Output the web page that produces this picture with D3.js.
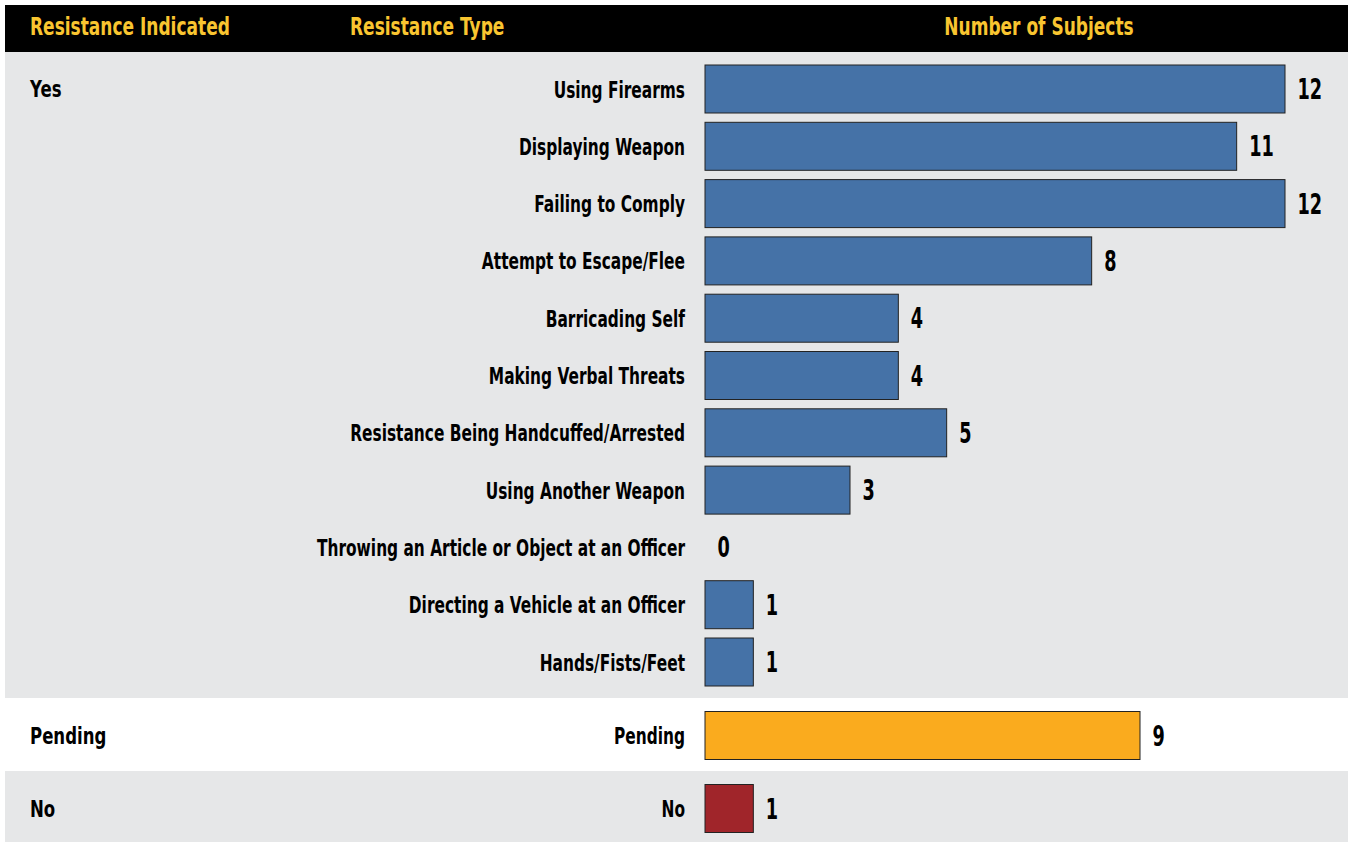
<!DOCTYPE html>
<html><head><meta charset="utf-8">
<script src="https://cdn.jsdelivr.net/npm/d3@7"></script>
<style>
html,body{margin:0;padding:0;background:#fff;}
text{font-family:"DejaVu Sans",sans-serif;font-weight:bold;}
</style></head>
<body><svg id="c" width="1350" height="842"></svg>
<script>
const headers = ["Resistance Indicated","Resistance Type","Number of Subjects"];
const groups = ["Yes","Pending","No"];
const categories = ["Using Firearms","Displaying Weapon","Failing to Comply","Attempt to Escape/Flee","Barricading Self","Making Verbal Threats","Resistance Being Handcuffed/Arrested","Using Another Weapon","Throwing an Article or Object at an Officer","Directing a Vehicle at an Officer","Hands/Fists/Feet","Pending","No"];
const categoryGroup = ["Yes","Yes","Yes","Yes","Yes","Yes","Yes","Yes","Yes","Yes","Yes","Pending","No"];
const values = [12,11,12,8,4,4,5,3,0,1,1,9,1];

const groupColor = {Yes:"#4572A7",Pending:"#FAAB1E",No:"#A0252A"};
const groupBg = {Yes:"#E6E7E8",Pending:"#FFFFFF",No:"#E6E7E8"};

const svg = d3.select("#c");

const rowH = 57.3;
const x = d3.scaleLinear().domain([0,12]).range([705,1285]);

const yCenters = [];
categories.forEach((c,i)=>{
  if (categoryGroup[i]==="Yes") yCenters.push(89 + i*rowH);
});
yCenters.push(735.5); // Pending
yCenters.push(808.5); // No

const bands = [
  {g:"Yes",y0:52,y1:698},
  {g:"Pending",y0:698,y1:771},
  {g:"No",y0:771,y1:842}
];
svg.selectAll("rect.band").data(bands).enter().append("rect")
  .attr("x",5).attr("width",1343).attr("y",d=>d.y0).attr("height",d=>d.y1-d.y0)
  .attr("fill",d=>groupBg[d.g]);

// condensed text helper
function ctext(sel, xf, yf, k, size, anchorf, fill, tf){
  const g = sel.append("g").attr("transform",(d,i)=>`translate(${xf(d,i)},${yf(d,i)}) scale(${k},1)`);
  g.append("text").attr("text-anchor",anchorf).attr("font-size",size).attr("fill",fill).text(tf);
  return g;
}

// header
svg.append("rect").attr("x",5).attr("y",5).attr("width",1343).attr("height",47).attr("fill","#000");
const hx = [30,350,1039], ha=["start","start","middle"];
ctext(svg.selectAll("g.h").data(headers).enter(), (d,i)=>hx[i], ()=>35, 0.695, 24.5, d=>ha[headers.indexOf(d)], "#F9C530", d=>d);

// group labels
const groupLabelY = {Yes:97,Pending:744,No:817};
ctext(svg.selectAll("g.g").data(groups).enter(), ()=>30, d=>groupLabelY[d], 0.72, 23, "start", "#000", d=>d);

const barH = 48;
const rows = categories.map((c,i)=>({c,v:values[i],g:categoryGroup[i],y:yCenters[i]}));

ctext(svg.selectAll("g.cat").data(rows).enter(), ()=>685, d=>d.y+8.5, 0.685, 22.5, "end", "#000", d=>d.c);

svg.selectAll("rect.bar").data(rows.filter(d=>d.v>0)).enter().append("rect")
  .attr("x",x(0)).attr("y",d=>d.y-barH/2).attr("width",d=>x(d.v)-x(0)).attr("height",barH)
  .attr("fill",d=>groupColor[d.g]).attr("stroke","#222").attr("stroke-width",1);

ctext(svg.selectAll("g.val").data(rows).enter(), d=>x(d.v)+12.5, d=>d.y+10, 0.61, 29, "start", "#000", d=>d.v);
</script></body></html>
